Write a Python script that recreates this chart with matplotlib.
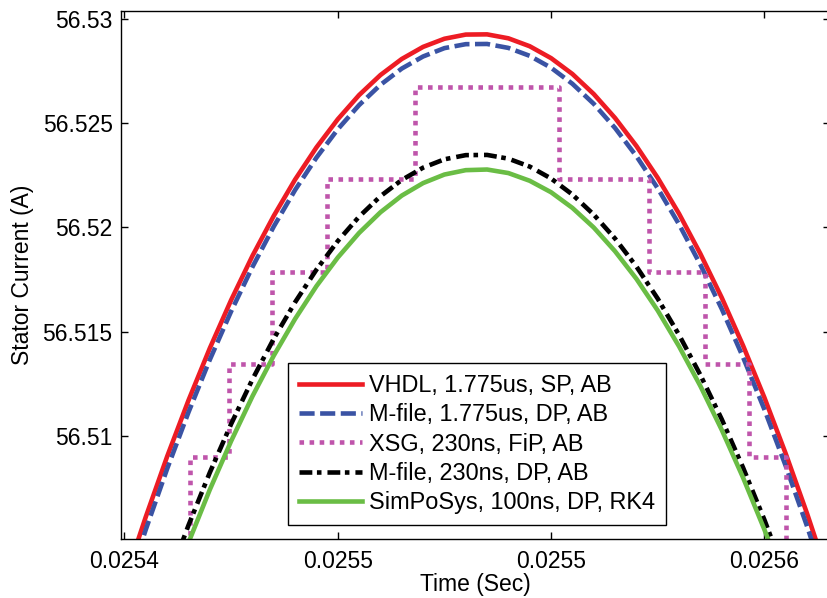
import numpy as np
import matplotlib
matplotlib.use("Agg")
import matplotlib.pyplot as plt

# time samples (s)
t = [0.025400, 0.025405, 0.025410, 0.025415, 0.025420, 0.025425, 0.025430,
     0.025435, 0.025440, 0.025445, 0.025450, 0.025455, 0.025460, 0.025465,
     0.025470, 0.025475, 0.025480, 0.025485, 0.025490, 0.025495, 0.025500,
     0.025505, 0.025510, 0.025515, 0.025520, 0.025525, 0.025530, 0.025535,
     0.025540, 0.025545, 0.025550, 0.025555, 0.025560, 0.025565]

# stator current (A)
vhdl = [56.50305, 56.50612, 56.50901, 56.51170, 56.51420, 56.51651, 56.51863,
        56.52055, 56.52229, 56.52383, 56.52518, 56.52634, 56.52730, 56.52807,
        56.52865, 56.52904, 56.52924, 56.52925, 56.52906, 56.52868, 56.52811,
        56.52735, 56.52639, 56.52524, 56.52390, 56.52237, 56.52065, 56.51873,
        56.51663, 56.51433, 56.51184, 56.50915, 56.50628, 56.50321]

mfile_1775 = [56.50242, 56.50551, 56.50842, 56.51113, 56.51365, 56.51597, 56.51810,
              56.52004, 56.52179, 56.52334, 56.52470, 56.52586, 56.52683, 56.52761,
              56.52819, 56.52859, 56.52878, 56.52879, 56.52860, 56.52822, 56.52765,
              56.52688, 56.52592, 56.52476, 56.52341, 56.52187, 56.52014, 56.51821,
              56.51609, 56.51377, 56.51127, 56.50856, 56.50567, 56.50258]

t_fix = t[2:32]
mfile_230 = [56.50299, 56.50571, 56.50824, 56.51057, 56.51271, 56.51466, 56.51641,
             56.51797, 56.51934, 56.52051, 56.52149, 56.52227, 56.52286, 56.52326,
             56.52346, 56.52347, 56.52329, 56.52291, 56.52234, 56.52157, 56.52061,
             56.51946, 56.51812, 56.51658, 56.51484, 56.51292, 56.51080, 56.50848,
             56.50598, 56.50327]

simposys = [56.50216, 56.50488, 56.50742, 56.50975, 56.51190, 56.51385, 56.51561,
            56.51718, 56.51855, 56.51973, 56.52072, 56.52152, 56.52212, 56.52253,
            56.52274, 56.52277, 56.52260, 56.52223, 56.52168, 56.52093, 56.51999,
            56.51885, 56.51753, 56.51601, 56.51429, 56.51239, 56.51029, 56.50800,
            56.50551, 56.50283]

# XSG fixed point output: step edges and held levels
xsg_t = [0.025395, 0.0254154, 0.0254244, 0.0254345, 0.0254475, 0.0254681,
         0.0255019, 0.0255230, 0.0255361, 0.0255464, 0.0255551, 0.025570]
xsg_i = [56.50457, 56.50900, 56.51343, 56.51787, 56.52230, 56.52671,
         56.52230, 56.51787, 56.51343, 56.50900, 56.50457, 56.50457]

labels = ['VHDL, 1.775us, SP, AB', 'M-file, 1.775us, DP, AB',
          'XSG, 230ns, FiP, AB', 'M-file, 230ns, DP, AB',
          'SimPoSys, 100ns, DP, RK4']

xticks = [0.02540, 0.02545, 0.02550, 0.02555]
xticklabels = ['0.0254', '0.0255', '0.0255', '0.0256']
yticks = [56.51, 56.515, 56.52, 56.525, 56.53]
yticklabels = ['56.51', '56.515', '56.52', '56.525', '56.53']

plt.rcParams['font.family'] = ['Liberation Sans', 'DejaVu Sans']
plt.rcParams['font.size'] = 16.5

fig = plt.figure(figsize=(8.28, 5.98), dpi=100)
ax = fig.add_axes([0.1461, 0.0992, 0.8563, 0.8832])

lw = 3.3
ax.plot(t, vhdl, color='#ed1c24', lw=lw, label=labels[0])
ax.plot(t, mfile_1775, color='#3a53a4', lw=lw, ls=(0, (3.3, 1.2)), label=labels[1])
ax.step(xsg_t, xsg_i, where='post', color='#bf55ab', lw=lw, ls=(0, (1.0, 1.2)),
        label=labels[2])
ax.plot(t_fix, mfile_230, color='black', lw=lw, ls=(0, (2.8, 1.0, 1.0, 1.3)),
        label=labels[3])
ax.plot(t_fix, simposys, color='#6abd45', lw=lw, label=labels[4])

ax.set_xlim(0.02539918, 0.02556538)
ax.set_ylim(56.505072, 56.530393)
ax.set_xticks(xticks)
ax.set_xticklabels(xticklabels)
ax.set_yticks(yticks)
ax.set_yticklabels(yticklabels)
ax.tick_params(direction='in', length=5, width=1, top=True, right=True, pad=6)
ax.tick_params(axis='x', pad=8)
for s in ax.spines.values():
    s.set_linewidth(1.0)

ax.set_xlabel('Time (Sec)', labelpad=0)
ax.set_ylabel('Stator Current (A)', labelpad=6)

leg = ax.legend(loc='upper left', bbox_to_anchor=(0.236, 0.332), borderaxespad=0,
                fontsize=16.9, handlelength=2.7, handletextpad=0.3, labelspacing=0.27,
                borderpad=0.45, fancybox=False, framealpha=1)
leg.get_frame().set_edgecolor('black')
leg.get_frame().set_linewidth(1.0)

fig.savefig('out.png', dpi=100)
